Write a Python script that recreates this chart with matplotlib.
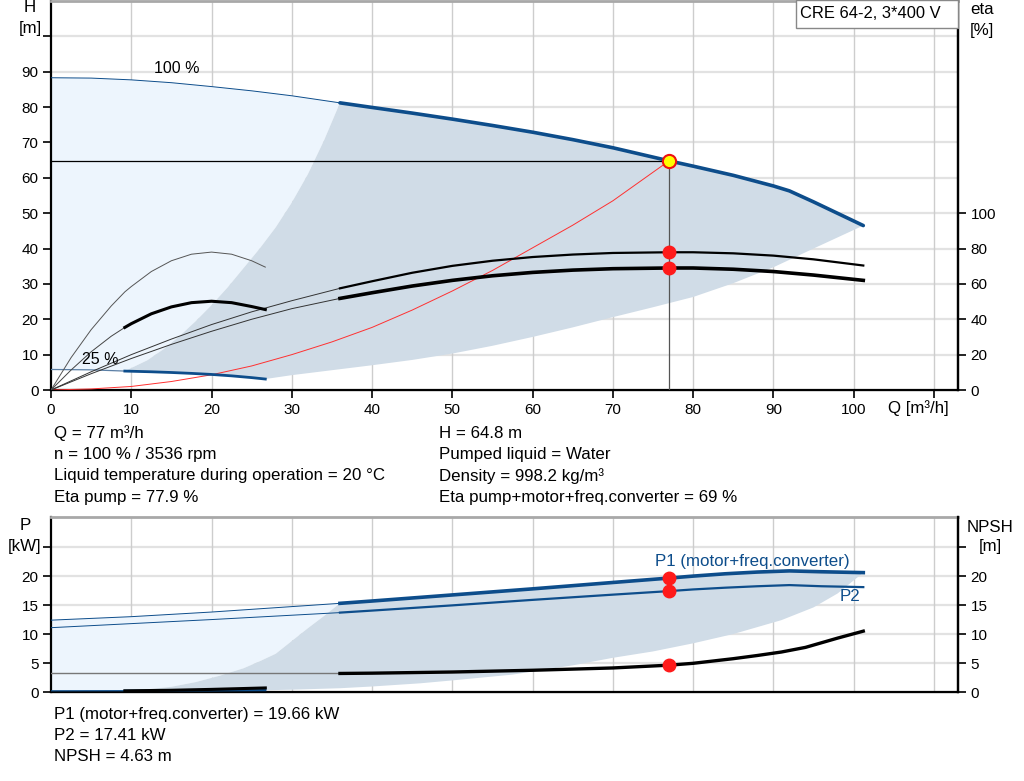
import matplotlib
matplotlib.use("Agg")
import matplotlib.pyplot as plt
from matplotlib.patches import Rectangle
import numpy as np

plt.rcParams['font.family'] = ['Liberation Sans', 'DejaVu Sans']
plt.rcParams['font.size'] = 11

# ---------------- data ----------------
# 100 % speed head curve
q_h100 = [0, 5, 10, 15, 20, 25, 30, 36, 40, 45, 50, 55, 60, 65, 70, 77, 80, 85, 90, 92, 95, 101.2]
h_h100 = [88.3, 88.2, 87.7, 86.9, 85.8, 84.6, 83.2, 81.2, 79.9, 78.3, 76.6, 74.8, 72.9, 70.8,
          68.5, 64.8, 63.3, 60.7, 57.7, 56.3, 53.2, 46.5]
# 25 % speed head curve
q_h25 = [0, 5, 9.2, 12.5, 15, 17.5, 20, 22.5, 25, 26.7]
h_h25 = [5.8, 5.7, 5.35, 5.15, 4.95, 4.7, 4.4, 4.0, 3.5, 3.1]
# system curve (red)
q_sys = [0, 5, 10, 15, 20, 25, 30, 35, 40, 45, 50, 55, 60, 65, 70, 77]
h_sys = [0, 0.3, 1.0, 2.4, 4.3, 6.8, 10.0, 13.6, 17.7, 22.6, 28.0, 33.8, 40.2, 46.6, 53.5, 64.8]
# efficiency curves at 100 %
q_eta100 = [0, 5, 10, 15, 20, 25, 30, 36, 40, 45, 50, 55, 60, 65, 70, 77, 80, 85, 90, 95, 101.2]
eta_pump100 = [0, 10.3, 20.0, 28.8, 37.0, 44.2, 50.5, 57.5, 61.5, 66.3, 70.2, 73.1, 75.2, 76.6,
               77.5, 77.9, 77.9, 77.3, 76.0, 73.9, 70.4]
eta_tot100 = [0, 9.2, 17.8, 25.8, 33.2, 40.0, 46.0, 51.8, 55.0, 58.8, 62.0, 64.6, 66.5, 67.8,
              68.6, 69.0, 69.0, 68.3, 67.0, 65.0, 62.0]
# efficiency curves at 25 %
q_eta25 = [0, 2.5, 5, 7.5, 9.2, 10, 12.5, 15, 17.5, 20, 22.5, 25, 26.7]
eta_pump25 = [0, 18.3, 34.1, 47.5, 55.5, 58.5, 67.0, 73.1, 76.8, 78.0, 76.8, 73.1, 69.5]
eta_tot25 = [0, 11.3, 21.6, 30.4, 35.4, 37.5, 43.1, 47.0, 49.4, 50.2, 49.4, 47.2, 45.5]
# operating-range boundaries (H chart)
q_rng_left = [9.2, 12, 14, 16, 18, 20, 22, 24, 26, 28, 30, 32, 34, 36]
h_rng_left = [5.35, 8.4, 11.5, 15.2, 19.4, 24.0, 29.0, 34.5, 40.0, 46.0, 53.0, 61.0, 70.5, 81.2]
q_rng_low = [26.7, 30, 35, 40, 45, 50, 55, 60, 65, 70, 75, 80, 85, 90, 95, 101.2]
h_rng_low = [3.1, 4.2, 5.6, 7.0, 8.5, 10.3, 12.5, 15.0, 17.7, 20.6, 23.4, 26.3, 30.2, 34.7, 40.0, 46.5]

# power / NPSH
q_p1 = [0, 10, 20, 36, 40, 50, 60, 70, 77, 80, 84, 88, 92, 96, 101.2]
p1 = [12.4, 13.0, 13.8, 15.3, 15.7, 16.75, 17.8, 18.9, 19.66, 20.0, 20.4, 20.7, 20.9, 20.75, 20.6]
q_p2 = [0, 10, 20, 36, 40, 50, 60, 70, 77, 80, 84, 88, 92, 96, 101.2]
p2 = [11.1, 11.8, 12.5, 13.7, 14.05, 14.95, 15.9, 16.8, 17.41, 17.7, 18.0, 18.25, 18.45, 18.25, 18.1]
q_npsh = [0, 36, 40, 45, 50, 55, 60, 65, 70, 77, 80, 85, 88, 91, 94, 96, 98, 101.2]
npsh = [3.2, 3.2, 3.25, 3.35, 3.45, 3.6, 3.75, 3.95, 4.15, 4.63, 4.95, 5.75, 6.3, 6.9, 7.7, 8.5, 9.3, 10.5]
q_low25 = [0, 9.2, 15, 20, 26.7]
npsh25 = [0.2, 0.2, 0.3, 0.45, 0.7]
p25 = [0.2, 0.22, 0.25, 0.28, 0.32]
q_prng_left = [9.2, 12, 15, 18, 21, 24, 26, 28, 30, 32, 34, 36]
p_rng_left = [0.2, 0.45, 0.9, 1.7, 2.8, 4.1, 5.3, 6.6, 8.8, 11.0, 13.1, 15.3]
q_prng_low = [26.7, 30, 36, 40, 46, 50, 57.5, 65, 70, 75, 80, 85, 91, 95, 98, 101.2]
p_rng_low = [0.3, 0.4, 0.65, 0.95, 1.5, 2.0, 3.0, 4.6, 5.9, 7.0, 8.4, 10.0, 12.4, 14.6, 17.0, 20.6]

# duty point
q_duty = 77
h_duty = 64.8
eta_pump_duty = 77.9
eta_tot_duty = 69
p1_duty = 19.66
p2_duty = 17.41
npsh_duty = 4.63

x_ticks = [0, 10, 20, 30, 40, 50, 60, 70, 80, 90, 100, 110]
x_labels = ['0', '10', '20', '30', '40', '50', '60', '70', '80', '90', '100', '']

BLUE = '#0d4d8b'
LIGHT = '#edf5fd'
DARK = '#d0dce7'
HGRID = '#e2e2e2'
VGRID = '#cdcdcd'
TXT = 12.2

fig = plt.figure(figsize=(10.24, 7.81), dpi=100)

def split(q, v, qs):
    q = np.asarray(q, float); v = np.asarray(v, float)
    a = q <= qs + 1e-9
    b = q >= qs - 1e-9
    return q[a], v[a], q[b], v[b]

def style_axes(ax):
    for s in ['left', 'right', 'bottom']:
        ax.spines[s].set_color('black')
        ax.spines[s].set_linewidth(1.6)
    ax.spines['top'].set_color('#a8a8a8')
    ax.spines['top'].set_linewidth(2)
    ax.set_xlim(0, 113)
    ax.set_xticks(x_ticks)
    for xv in x_ticks[1:]:
        ax.axvline(xv, color=VGRID, lw=1.0, zorder=0.5)

# ================= upper chart =================
ax1 = fig.add_axes([51/1024, 1-390/781, (958-51)/1024, 389/781])
style_axes(ax1)
ax1.set_ylim(0, 110)
ax1.set_yticks(range(0, 101, 10))
ax1.set_yticklabels([str(v) for v in range(0, 91, 10)] + [''])
for yv in range(10, 101, 10):
    ax1.axhline(yv, color=HGRID, lw=1.6, zorder=0.4)
ax1.set_xticklabels(x_labels)
ax1.tick_params(axis='both', direction='out', length=6, width=1.2, pad=3, labelsize=11)

i36 = q_h100.index(36)
i92 = q_h25.index(9.2)
# light region
lq = list(q_h100[:i36+1]) + q_rng_left[::-1] + q_h25[:i92+1][::-1]
lh = list(h_h100[:i36+1]) + h_rng_left[::-1] + h_h25[:i92+1][::-1]
ax1.fill(lq, lh, color=LIGHT, lw=0, zorder=1)
# dark region
dq = q_rng_left + list(q_h100[i36:]) + q_rng_low[::-1] + q_h25[i92:][::-1]
dh = h_rng_left + list(h_h100[i36:]) + h_rng_low[::-1] + h_h25[i92:][::-1]
ax1.fill(dq, dh, color=DARK, lw=0, zorder=1.1)

# duty lines
ax1.plot([0, q_duty], [h_duty, h_duty], color='black', lw=0.9, zorder=3)
ax1.plot([q_duty, q_duty], [0, h_duty], color='#555555', lw=0.9, zorder=3)

# system curve
ax1.plot(q_sys, h_sys, color='#ff3030', lw=0.7, zorder=3)

# head curves
a, b, c, d = split(q_h100, h_h100, 36)
ax1.plot(a, b, color=BLUE, lw=0.7, zorder=4)
ax1.plot(c, d, color=BLUE, lw=2.6, zorder=4, solid_capstyle='round')
a, b, c, d = split(q_h25, h_h25, 9.2)
ax1.plot(a, b, color='#5b7fa5', lw=0.9, zorder=4)
ax1.plot(c, d, color=BLUE, lw=2.0, zorder=4)

# efficiency axis
ax1r = ax1.twinx()
ax1r.set_ylim(0, 220)
ax1r.set_yticks(range(0, 101, 20))
ax1r.spines['right'].set_linewidth(1.6)
ax1r.spines['top'].set_visible(False)
ax1r.spines['left'].set_visible(False)
ax1r.tick_params(axis='y', direction='out', length=6, width=1.2, pad=3, labelsize=11)

a, b, c, d = split(q_eta100, eta_pump100, 36)
ax1r.plot(a, b, color='#333333', lw=0.7, zorder=3)
ax1r.plot(c, d, color='black', lw=1.6, zorder=3)
a, b, c, d = split(q_eta100, eta_tot100, 36)
ax1r.plot(a, b, color='#333333', lw=0.7, zorder=3)
ax1r.plot(c, d, color='black', lw=2.6, zorder=3)
ax1r.plot(q_eta25, eta_pump25, color='#555555', lw=0.7, zorder=3)
a, b, c, d = split(q_eta25, eta_tot25, 9.2)
ax1r.plot(a, b, color='#444444', lw=0.7, zorder=3)
ax1r.plot(c, d, color='black', lw=2.2, zorder=3)

ax1r.plot([q_duty], [eta_pump_duty], 'o', color='#ff1a1a', ms=9, mec='#ff1a1a', zorder=6)
ax1r.plot([q_duty], [eta_tot_duty], 'o', color='#ff1a1a', ms=9, mec='#ff1a1a', zorder=6)
ax1r.plot([q_duty], [h_duty * 2], 'o', color='#ffff00', ms=9.5, mec='#ee1111', mew=1.5, zorder=7)

ax1r.text(15.7, 182, '100 %', ha='center', va='center', fontsize=11.5)
ax1r.text(6.1, 17, '25 %', ha='center', va='center', fontsize=11.5)

# ================= lower chart =================
ax2 = fig.add_axes([51/1024, 1-692/781, (958-51)/1024, (692-517)/781])
style_axes(ax2)
ax2.set_ylim(0, 30.2)
ax2.set_yticks(range(0, 26, 5))
ax2.set_yticklabels(['0', '5', '10', '15', '20', ''])
for yv in range(5, 26, 5):
    ax2.axhline(yv, color=HGRID, lw=1.6, zorder=0.4)
ax2.tick_params(axis='x', length=0, labelbottom=False)
ax2.tick_params(axis='y', direction='out', length=6, width=1.2, pad=3, labelsize=11)

j36 = q_p1.index(36)
lq = list(q_p1[:j36+1]) + q_prng_left[::-1] + [0]
lp = list(p1[:j36+1]) + p_rng_left[::-1] + [0.2]
ax2.fill(lq, lp, color=LIGHT, lw=0, zorder=1)
dq = q_prng_left + list(q_p1[j36:]) + q_prng_low[::-1] + [q_low25[-1], q_low25[1]]
dp = p_rng_left + list(p1[j36:]) + p_rng_low[::-1] + [npsh25[-1], npsh25[1]]
ax2.fill(dq, dp, color=DARK, lw=0, zorder=1.1)

a, b, c, d = split(q_p1, p1, 36)
ax2.plot(a, b, color=BLUE, lw=0.7, zorder=4)
ax2.plot(c, d, color=BLUE, lw=2.6, zorder=4)
a, b, c, d = split(q_p2, p2, 36)
ax2.plot(a, b, color=BLUE, lw=0.7, zorder=4)
ax2.plot(c, d, color=BLUE, lw=1.6, zorder=4)
a, b, c, d = split(q_npsh, npsh, 36)
ax2.plot(a, b, color='#777777', lw=1.0, zorder=4)
ax2.plot(c, d, color='black', lw=2.4, zorder=4)
a, b, c, d = split(q_low25, p25, 9.2)
ax2.plot(a, b, color=BLUE, lw=0.9, zorder=4)
ax2.plot(c, d, color=BLUE, lw=1.6, zorder=4)
a, b, c, d = split(q_low25, npsh25, 9.2)
ax2.plot(c, d, color='black', lw=2.2, zorder=4.5)

for v in (p1_duty, p2_duty, npsh_duty):
    ax2.plot([q_duty], [v], 'o', color='#ff1a1a', ms=9, mec='#ff1a1a', zorder=6)

ax2.text(87.4, 22.6, 'P1 (motor+freq.converter)', color=BLUE, ha='center', va='center', fontsize=TXT)
ax2.text(99.5, 16.4, 'P2', color=BLUE, ha='center', va='center', fontsize=TXT)

ax2r = ax2.twinx()
ax2r.set_ylim(0, 30.2)
ax2r.set_yticks(range(0, 26, 5))
ax2r.set_yticklabels(['0', '5', '10', '15', '20', ''])
ax2r.spines['right'].set_linewidth(1.6)
ax2r.spines['top'].set_visible(False)
ax2r.spines['left'].set_visible(False)
ax2r.tick_params(axis='y', direction='out', length=6, width=1.2, pad=3, labelsize=11)

# ================= texts =================
def ft(x, y, s, size=TXT, **kw):
    fig.text(x/1024, 1-y/781, s, va='center', fontsize=size, **kw)

ft(30, 8, 'H', ha='center')
ft(30, 29, '[m]', ha='center')
ft(982, 10, 'eta', ha='center')
ft(982, 30, '[%]', ha='center')
ft(918, 408, 'Q [m³/h]', ha='center')
ft(25, 526, 'P', ha='center')
ft(25, 547, '[kW]', ha='center')
ft(990, 527, 'NPSH', ha='center')
ft(990, 547, '[m]', ha='center')

fig.patches.append(Rectangle((796/1024, 1-28/781), (958-796)/1024, 28/781,
                             transform=fig.transFigure, facecolor='white',
                             edgecolor='#888888', lw=1.0, zorder=10))
ft(870, 14, 'CRE 64-2, 3*400 V', size=11.9, ha='center', zorder=11)

left_col = ['Q = 77 m³/h', 'n = 100 % / 3536 rpm',
            'Liquid temperature during operation = 20 °C', 'Eta pump = 77.9 %']
right_col = ['H = 64.8 m', 'Pumped liquid = Water', 'Density = 998.2 kg/m³',
             'Eta pump+motor+freq.converter = 69 %']
for i, s in enumerate(left_col):
    ft(54, 433 + i*21.4, s, ha='left')
for i, s in enumerate(right_col):
    ft(439, 433 + i*21.4, s, ha='left')
bottom_lines = ['P1 (motor+freq.converter) = 19.66 kW', 'P2 = 17.41 kW', 'NPSH = 4.63 m']
for i, s in enumerate(bottom_lines):
    ft(54, 714 + i*21.4, s, ha='left')

fig.savefig('out.png', dpi=100)
